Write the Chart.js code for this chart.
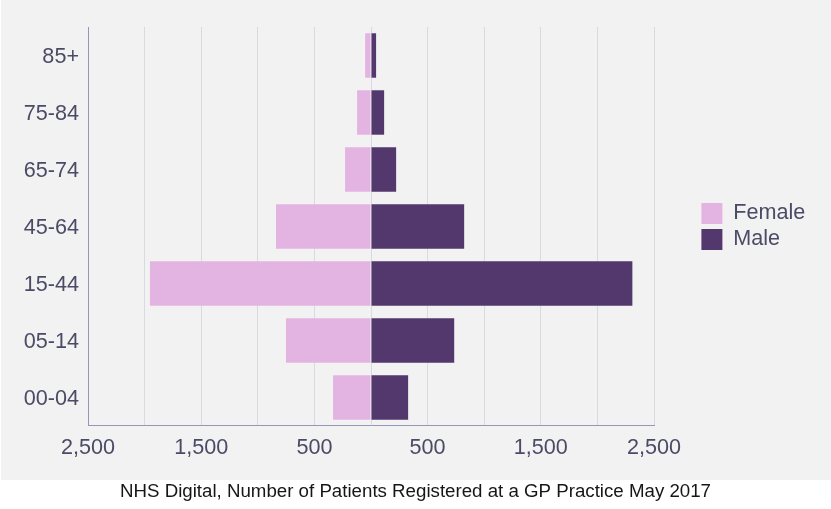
<!DOCTYPE html>
<html>
<head>
<meta charset="utf-8">
<script src="https://cdn.jsdelivr.net/npm/chart.js@4/dist/chart.umd.min.js"></script>
<style>
  html, body { margin: 0; padding: 0; background: #ffffff; }
  #wrap { width: 831px; height: 509px; }
</style>
</head>
<body>
<div id="wrap"><canvas id="c" width="831" height="509"></canvas></div>
<script>
const ageGroups = ['85+', '75-84', '65-74', '45-64', '15-44', '05-14', '00-04'];
const femaleValues = [52, 123, 229, 839, 1953, 751, 335];
const maleValues = [45, 116, 222, 823, 2309, 735, 328];
const axisMin = -2500;
const axisMax = 2500;
const axisStep = 500;
const caption = 'NHS Digital, Number of Patients Registered at a GP Practice May 2017';

const FONT = '"Liberation Sans", Arial, Helvetica, sans-serif';
const TEXT = '#4b4b66';
const AXIS = '#9696bb';
const GRID = '#d9d9e2';

const bgPlugin = {
  id: 'bg',
  beforeDraw(chart) {
    const ctx = chart.ctx;
    ctx.save();
    ctx.fillStyle = '#f2f2f2';
    ctx.fillRect(1, 0, 830, 480);
    ctx.restore();
  }
};

const legendPlacer = {
  id: 'legendPlacer',
  beforeInit(chart) {
    const lg = chart.legend;
    if (!lg) return;
    const orig = lg.fit;
    lg.fit = function () {
      orig.call(this);
      this.width = 177;
    };
  },
  afterLayout(chart) {
    const lg = chart.legend;
    if (lg) {
      lg.left += 43;
      lg.top = chart.chartArea.top;
      lg.bottom = chart.chartArea.bottom;
      lg.height = lg.bottom - lg.top;
    }
  }
};

new Chart(document.getElementById('c'), {
  type: 'bar',
  data: {
    labels: ageGroups,
    datasets: [
      {
        label: 'Female',
        data: femaleValues.map(v => -v),
        backgroundColor: '#e3b3e1',
        borderWidth: 0,
        barPercentage: 0.78,
        categoryPercentage: 1
      },
      {
        label: 'Male',
        data: maleValues,
        backgroundColor: '#52386c',
        borderWidth: 0,
        barPercentage: 0.78,
        categoryPercentage: 1
      }
    ]
  },
  options: {
    indexAxis: 'y',
    responsive: false,
    animation: false,
    devicePixelRatio: 1,
    layout: { padding: { left: 0, right: 0, top: 27, bottom: 0 } },
    scales: {
      x: {
        type: 'linear',
        stacked: true,
        min: axisMin,
        max: axisMax,
        afterFit(scale) { scale.height = 53.8; },
        ticks: {
          stepSize: axisStep,
          autoSkip: false,
          maxRotation: 0,
          minRotation: 0,
          padding: 9,
          color: TEXT,
          font: { family: FONT, size: 21.6 },
          callback: (v) => (Math.abs(v) % 1000 === 0 ? '' : Math.abs(v).toLocaleString('en-US'))
        },
        grid: { display: true, color: GRID, lineWidth: 1, drawTicks: false },
        border: { display: true, color: AXIS, width: 1 }
      },
      y: {
        type: 'category',
        stacked: true,
        afterFit(scale) { scale.width = 88; },
        ticks: {
          padding: 9,
          labelOffset: 1.5,
          color: TEXT,
          font: { family: FONT, size: 21.6 }
        },
        grid: { display: false, drawTicks: false },
        border: { display: true, color: AXIS, width: 1 }
      }
    },
    plugins: {
      legend: {
        display: true,
        position: 'right',
        align: 'center',
        labels: {
          boxWidth: 21,
          boxHeight: 21,
          padding: 4.4,
          color: TEXT,
          font: { family: FONT, size: 21.6 }
        }
      },
      title: {
        display: true,
        position: 'bottom',
        text: caption,
        color: '#161616',
        font: { family: FONT, size: 18.7, weight: 'normal' },
        padding: { top: 1, bottom: 5.8 }
      },
      tooltip: { enabled: false }
    }
  },
  plugins: [bgPlugin, legendPlacer]
});
</script>
</body>
</html>
